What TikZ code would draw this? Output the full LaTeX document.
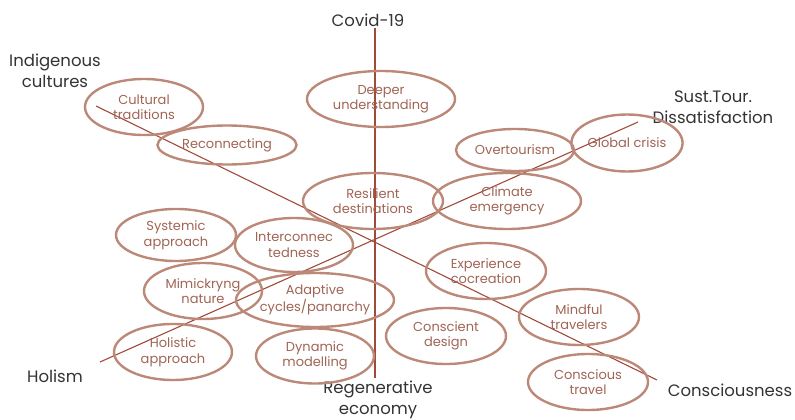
\documentclass[tikz,border=0pt]{standalone}
\usepackage{fontspec}
\setmainfont{Poppins}
\usetikzlibrary{shapes.geometric}
\definecolor{ring}{HTML}{BC8878}
\definecolor{axis}{HTML}{A24A3A}
\definecolor{btxt}{HTML}{A06454}
\definecolor{ltxt}{HTML}{333333}
\tikzset{
  bub/.style={ellipse, draw=ring, line width=2.4pt, text=btxt, align=center,
    font=\fontsize{13}{15.5}\selectfont, inner sep=0pt},
  axl/.style={draw=axis, line width=1.1pt},
  lab/.style={text=ltxt, align=center, font=\fontsize{16.5}{20.5}\selectfont, inner sep=0pt}
}
\begin{document}
\begin{tikzpicture}[x=1pt,y=-1pt]
\useasboundingbox (0,0) rectangle (795,420);
% axes
\coordinate (vt) at (375,28);
\coordinate (vb) at (375,378);
\coordinate (d1a) at (96,106);
\coordinate (d1b) at (657,380);
\coordinate (d2a) at (100,362);
\coordinate (d2b) at (638,122);
\draw[axl] (vt) -- (vb);
\draw[axl] (d1a) -- (d1b);
\draw[axl] (d2a) -- (d2b);
% labels
\node[lab] (covid) at (368,20) {Covid-19};
\node[lab] (indig) at (55,71) {Indigenous\\cultures};
\node[lab] (sust) at (713,107) {Sust.Tour.\\Dissatisfaction};
\node[lab] (holism) at (55,376) {Holism};
\node[lab] (regen) at (378,400) {Regenerative\\economy};
\node[lab] (consc) at (730,390) {Consciousness};
% bubbles
\node[bub, minimum width=118pt, minimum height=56pt] (ct) at (144,107) {Cultural\\traditions};
\node[bub, minimum width=139pt, minimum height=39pt] (rc) at (227,145) {Reconnecting};
\node[bub, minimum width=148pt, minimum height=56pt] (du) at (381,99) {Deeper\\understanding};
\node[bub, minimum width=118pt, minimum height=42pt] (ot) at (515,150) {Overtourism};
\node[bub, minimum width=111pt, minimum height=57pt] (gc) at (627,143) {Global crisis};
\node[bub, minimum width=148pt, minimum height=56pt] (ce) at (507,201) {Climate\\emergency};
\node[bub, minimum width=140pt, minimum height=56pt] (rd) at (373,201) {Resilient\\destinations};
\node[bub, minimum width=120pt, minimum height=52pt] (sa) at (176,235) {Systemic\\approach};
\node[bub, minimum width=118pt, minimum height=54pt] (ic) at (294,245) {Interconnec\\tedness};
\node[bub, minimum width=118pt, minimum height=56pt] (mn) at (203,291) {Mimickryng\\nature};
\node[bub, minimum width=158pt, minimum height=54pt] (ac) at (315,300) {Adaptive\\cycles/panarchy};
\node[bub, minimum width=118pt, minimum height=56pt] (ha) at (173,352) {Holistic\\approach};
\node[bub, minimum width=118pt, minimum height=55pt] (dm) at (315,356) {Dynamic\\modelling};
\node[bub, minimum width=120pt, minimum height=56pt] (cd) at (446,336) {Conscient\\design};
\node[bub, minimum width=120pt, minimum height=56pt] (ec) at (486,271) {Experience\\cocreation};
\node[bub, minimum width=120pt, minimum height=56pt] (mt) at (579,317) {Mindful\\travelers};
\node[bub, minimum width=120pt, minimum height=56pt] (cv) at (588,382) {Conscious\\travel};
\end{tikzpicture}
\end{document}
